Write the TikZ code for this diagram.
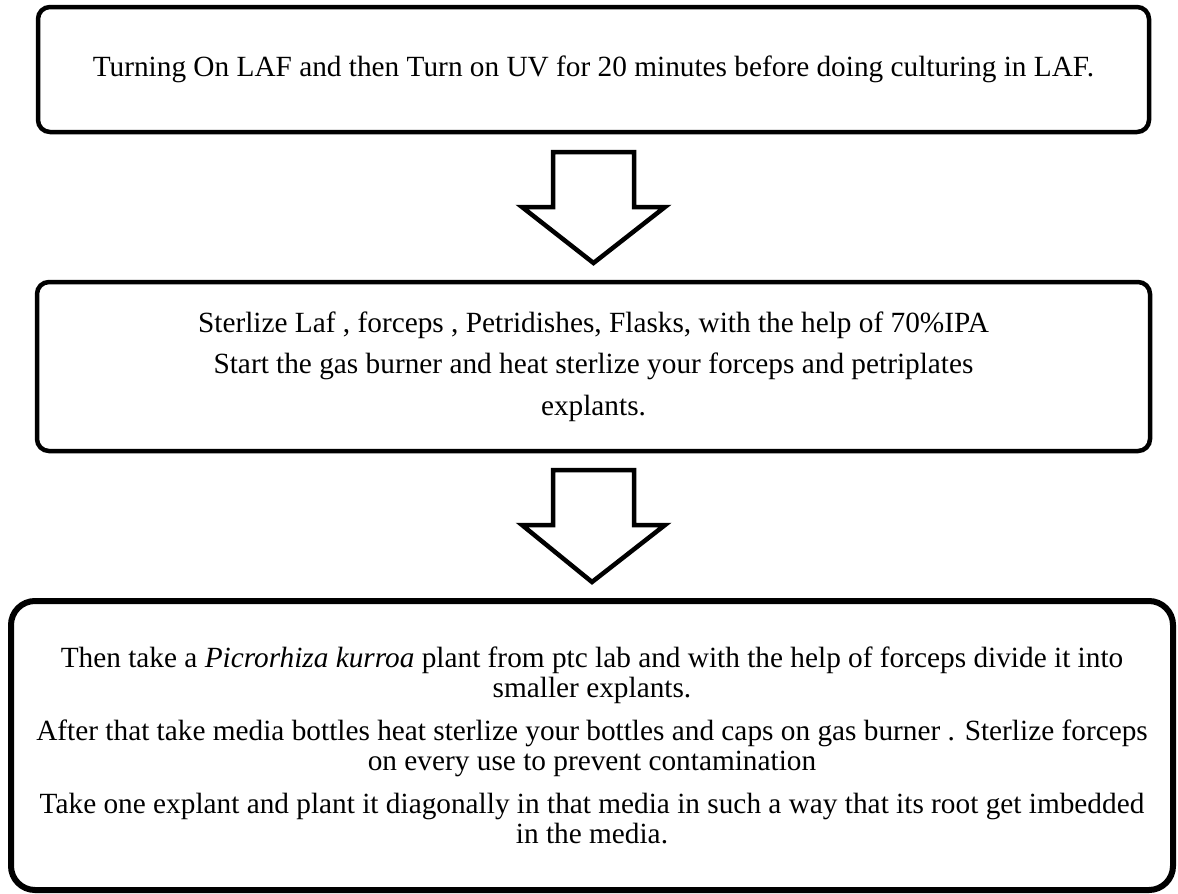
\documentclass[tikz,border=0pt]{standalone}
\usepackage{fontspec}
\setmainfont{Liberation Serif}
\usetikzlibrary{calc}

\tikzset{
  stepbox/.style={draw=black, line width=4.5pt, rounded corners=12pt,
    inner sep=0pt, outer sep=0pt, align=center, fill=white},
  bigbox/.style={stepbox, line width=6pt, rounded corners=24pt},
  blockarrow/.style={draw=black, line width=4.5pt, fill=white, line join=miter}
}

% hollow block arrow pointing down from box #1 to box #3, starting #2 below #1
% (y axis points down: positive offsets move downwards)
\newcommand{\downarrowblock}[3]{%
  \draw[blockarrow]
    ($(#1.south)+(-40.5,#2)$) -- ($(#1.south)+(40.5,#2)$)
    -- ($(#1.south)+(40.5,#2+55)$) -- ($(#1.south)+(71.5,#2+55)$)
    -- ($(#3.north)+(0,-19)$)
    -- ($(#1.south)+(-71.5,#2+55)$) -- ($(#1.south)+(-40.5,#2+55)$) -- cycle;
}

\begin{document}
\begin{tikzpicture}[x=1pt, y=-1pt]
\useasboundingbox[fill=white] (0,0) rectangle (1178,894);

\node[stepbox, minimum width=1111pt, minimum height=125pt,
      font=\fontsize{29.3}{34}\selectfont] (s1) at (593.5,69.5)
  {Turning On LAF and then Turn on UV for 20 minutes before doing culturing in LAF.};

\node[stepbox, minimum width=1113pt, minimum height=169pt,
      font=\fontsize{29.3}{41.5}\selectfont] (s2) at (593.5,366.5)
  {Sterlize Laf , forceps , Petridishes, Flasks, with the help of 70\%IPA\\
   Start the gas burner and heat sterlize your forceps and petriplates\\
   explants.};

\node[bigbox, minimum width=1162pt, minimum height=289pt,
      font=\fontsize{29.3}{30}\selectfont] (s3) at (592,745.5)
  {Then take a \textit{Picrorhiza kurroa} plant from ptc lab and with the help of forceps divide it into\\
   smaller explants.\\[13pt]
   After that take media bottles heat sterlize your bottles and caps on gas burner . Sterlize forceps\\
   on every use to prevent contamination\\[13pt]
   Take one explant and plant it diagonally in that media in such a way that its root get imbedded\\
   in the media.};

\downarrowblock{s1}{20}{s2}
\downarrowblock{s2}{19}{s3}
\end{tikzpicture}
\end{document}
